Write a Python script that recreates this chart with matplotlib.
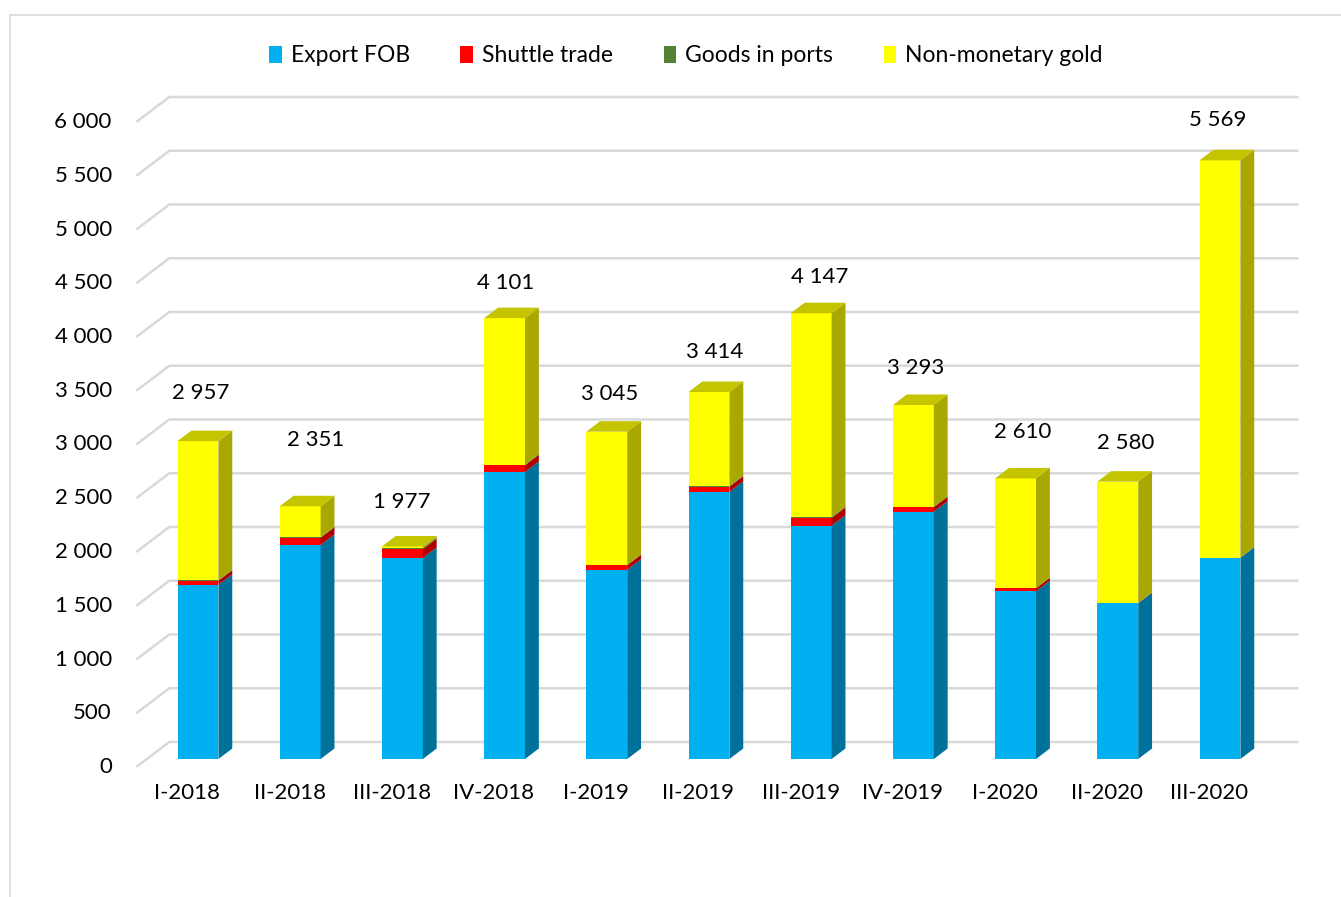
import matplotlib.pyplot as plt
from matplotlib.patches import Patch, Rectangle

categories = ['I-2018', 'II-2018', 'III-2018', 'IV-2018', 'I-2019', 'II-2019',
              'III-2019', 'IV-2019', 'I-2020', 'II-2020', 'III-2020']
export_fob = [1620, 1990, 1870, 2670, 1760, 2485, 2170, 2300, 1560, 1448, 1872]
shuttle_trade = [38, 68, 82, 62, 42, 48, 72, 42, 28, 4, 0]
goods_in_ports = [5, 5, 8, 6, 5, 6, 8, 6, 3, 2, 2]
non_monetary_gold = [1294, 288, 17, 1363, 1238, 875, 1897, 945, 1019, 1126, 3695]
totals = [2957, 2351, 1977, 4101, 3045, 3414, 4147, 3293, 2610, 2580, 5569]
y_ticks = list(range(0, 6001, 500))

# (name, values, front, side, top)
series = [
    ('Export FOB', export_fob, '#00B0F0', '#00719A', '#0093C8'),
    ('Shuttle trade', shuttle_trade, '#FF0000', '#B00000', '#D00000'),
    ('Goods in ports', goods_in_ports, '#548235', '#3A5C25', '#46702C'),
    ('Non-monetary gold', non_monetary_gold, '#FFFF00', '#A8A800', '#C4C400'),
]

FONT = 'Lato'
W, H = 1341, 897
# pixel anchors of the axis front plane
X0_PX, STEP_PX = 187.4, 102.2
Y0_PX, VAL_PX = 130.0, 0.1075
DX = 33 / STEP_PX      # full floor depth in category units
DY = 25 / VAL_PX       # full floor depth in value units
D_FRONT, D_BACK = 0.32, 0.74
HALF = 0.2
# small pixel nudges of the total labels, as Excel placed them
label_dx = [-1, 12, -5, -3, -1, 2, 5, -2, 3, 4, -6]
label_dy = [8, 26, 4, -5, -2, 0, -4, -3, 6, -1, 0]

fig = plt.figure(figsize=(W / 100, H / 100), dpi=100)
ax = fig.add_axes([0, 0, 1, 1])
ax.set_xlim(-X0_PX / STEP_PX, (W - X0_PX) / STEP_PX)
ax.set_ylim(-Y0_PX / VAL_PX, (H - Y0_PX) / VAL_PX)
ax.axis('off')

# chart border
fig.patches.append(Rectangle((10 / W, -0.1), 1.2, (H - 15) / H + 0.1,
                             transform=fig.transFigure, fill=False,
                             edgecolor='#D9D9D9', linewidth=1.2))


def P(x, v, d):
    return x + d * DX, v + d * DY


grid_left, grid_right = -0.5, 10.55
for v in y_ticks:
    a = P(grid_left, v, 0)
    b = P(grid_left, v, 1)
    c = P(grid_right, v, 1)
    ax.plot([a[0], b[0], c[0]], [a[1], b[1], c[1]], color='#D9D9D9',
            lw=1.8, solid_capstyle='butt', zorder=1)
    ax.text(grid_left - 0.24, v, '{:,}'.format(v).replace(',', ' '),
            ha='right', va='center', fontsize=16, family=FONT, color='#000000')

for i, cat in enumerate(categories):
    ax.text(i, -245, cat, ha='center', va='center', fontsize=16,
            family=FONT, color='#000000')

    base = 0
    n_top = max(k for k, s in enumerate(series) if s[1][i] > 0)
    for k, (name, vals, front, side, top) in enumerate(series):
        v = vals[i]
        if v <= 0:
            continue
        y0, y1 = base, base + v
        fx = [P(i - HALF, y0, D_FRONT), P(i + HALF, y0, D_FRONT),
              P(i + HALF, y1, D_FRONT), P(i - HALF, y1, D_FRONT)]
        ax.fill([p[0] for p in fx], [p[1] for p in fx], color=front,
                lw=0, zorder=3)
        sx = [P(i + HALF, y0, D_FRONT), P(i + HALF, y0, D_BACK),
              P(i + HALF, y1, D_BACK), P(i + HALF, y1, D_FRONT)]
        ax.fill([p[0] for p in sx], [p[1] for p in sx], color=side,
                lw=0, zorder=3)
        if k == n_top:
            tx = [P(i - HALF, y1, D_FRONT), P(i + HALF, y1, D_FRONT),
                  P(i + HALF, y1, D_BACK), P(i - HALF, y1, D_BACK)]
            ax.fill([p[0] for p in tx], [p[1] for p in tx], color=top,
                    lw=0, zorder=3)
        base = y1

    lx, ly = P(i - 0.02, totals[i], 0.5)
    ax.text(lx + label_dx[i] / STEP_PX, ly + 330 + label_dy[i] / VAL_PX,
            '{:,}'.format(totals[i]).replace(',', ' '),
            ha='center', va='center', fontsize=16, family=FONT, color='#000000')

handles = [Patch(facecolor=s[2], edgecolor='none', label=s[0]) for s in series]
fig.legend(handles=handles, loc='center', bbox_to_anchor=(686 / W, 1 - 56 / H),
           ncol=4, frameon=False, prop={'family': FONT, 'size': 16.5},
           handlelength=0.55, handleheight=0.8, handletextpad=0.4,
           columnspacing=2.2)

fig.savefig('out.png', dpi=100)
